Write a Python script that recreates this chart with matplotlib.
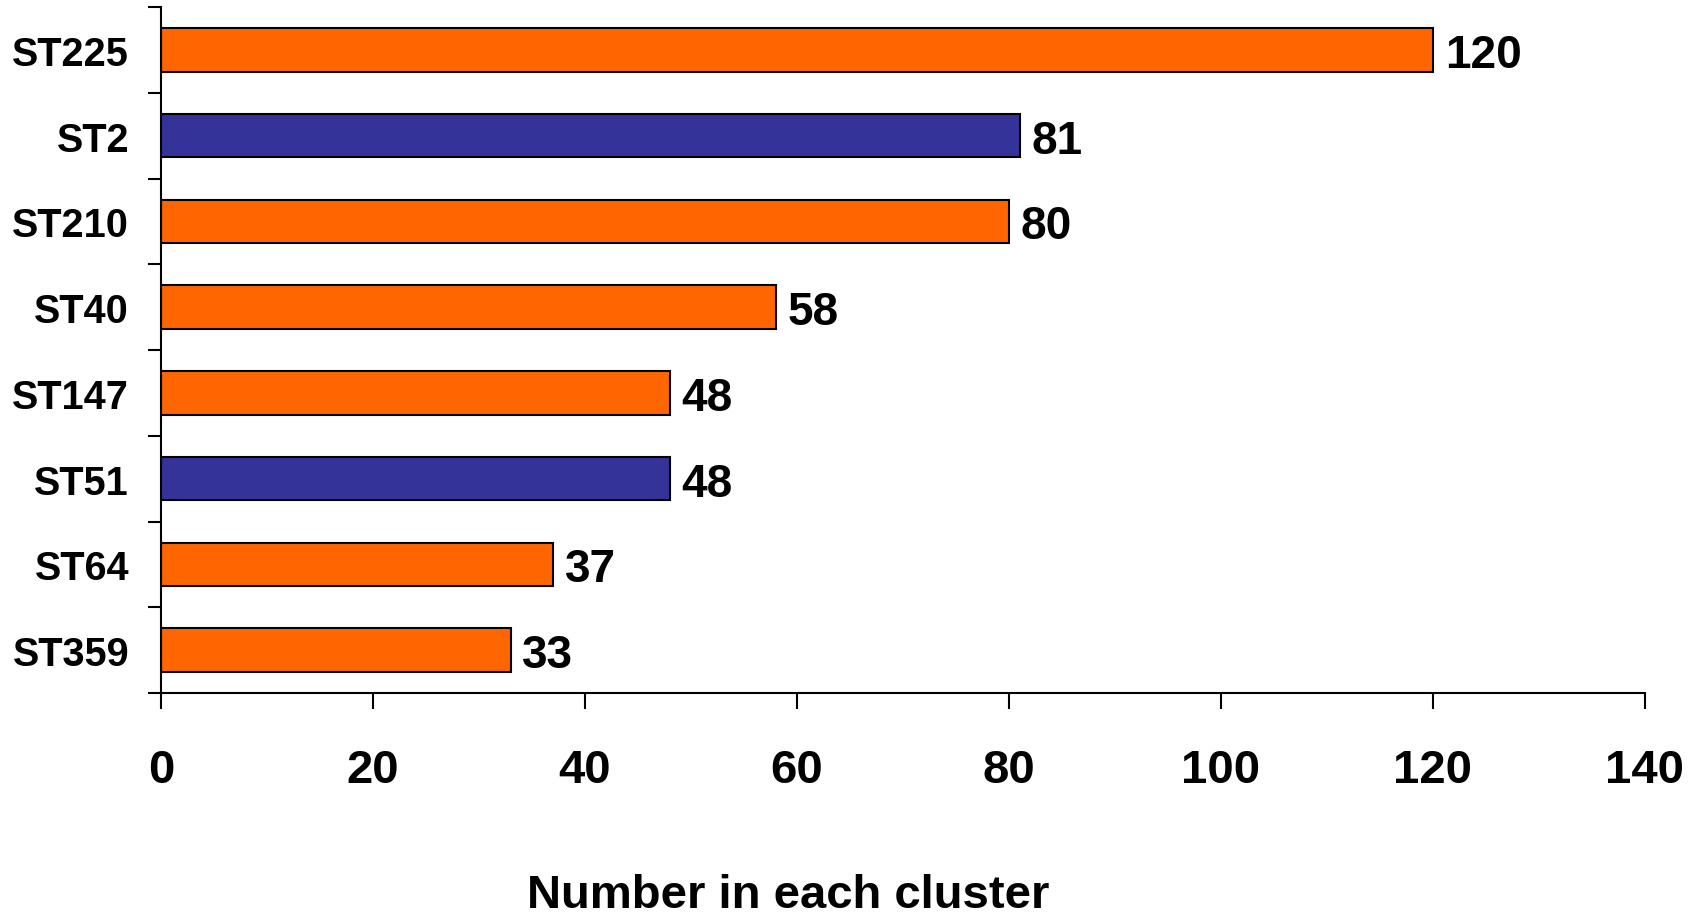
import matplotlib
matplotlib.use('agg')
import matplotlib.pyplot as plt
import numpy as np

# cluster names, top to bottom
clusters = ["ST225", "ST2", "ST210", "ST40", "ST147", "ST51", "ST64", "ST359"]
counts = [120, 81, 80, 58, 48, 48, 37, 33]
groups = ["orange", "blue", "orange", "orange", "orange", "blue", "orange", "orange"]
x_ticks = [0, 20, 40, 60, 80, 100, 120, 140]

palette = {"orange": "#FF6600", "blue": "#333399"}

plt.rcParams['font.family'] = ['Liberation Sans', 'DejaVu Sans']
plt.rcParams['font.weight'] = 'bold'

fig = plt.figure(figsize=(17.05, 9.2), dpi=100)
ax = fig.add_axes([161 / 1705, 1 - 694 / 920, (1645 - 161) / 1705, (694 - 8) / 920])

n = len(clusters)
ypos = np.arange(n)
bars = ax.barh(ypos, counts, height=0.51,
               color=[palette[g] for g in groups],
               edgecolor='black', linewidth=1.5)

for b, v in zip(bars, counts):
    ax.text(b.get_width() + 1.1, b.get_y() + b.get_height() / 2, str(v),
            va='center_baseline', ha='left', fontsize=33, fontweight='bold')

ax.set_ylim(n - 0.5, -0.5)
ax.set_xlim(0, 140)
ax.set_xticks(x_ticks)
ax.set_xticklabels([str(t) for t in x_ticks], fontsize=34, fontweight='bold')

# category labels at centres, tick marks at boundaries
ax.set_yticks(ypos)
ax.set_yticklabels(clusters, fontsize=28.5, fontweight='bold')
ax.set_yticks(np.arange(n + 1) - 0.5, minor=True)
ax.tick_params(axis='y', which='major', length=0, pad=23)
ax.tick_params(axis='y', which='minor', length=9.5, width=1.5)
ax.tick_params(axis='x', length=11.5, width=1.5, pad=28)

for s in ['top', 'right']:
    ax.spines[s].set_visible(False)
for s in ['left', 'bottom']:
    ax.spines[s].set_linewidth(1.5)

fig.text(788 / 1705, 1 - 908 / 920, "Number in each cluster",
         ha='center', va='baseline', fontsize=34, fontweight='bold')

fig.savefig("out.png", dpi=100)
